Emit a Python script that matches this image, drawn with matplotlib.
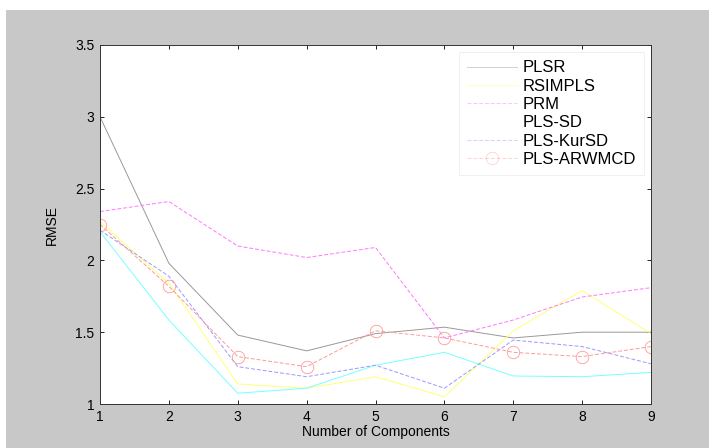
import matplotlib
matplotlib.use("Agg")
import matplotlib.pyplot as plt
from matplotlib.patches import Rectangle

components = [1, 2, 3, 4, 5, 6, 7, 8, 9]

plsr = [3.00, 1.98, 1.48, 1.37, 1.49, 1.535, 1.46, 1.50, 1.50]
rsimpls = [2.27, 1.84, 1.14, 1.11, 1.19, 1.05, 1.51, 1.79, 1.49]
prm = [2.34, 2.41, 2.10, 2.02, 2.09, 1.46, 1.585, 1.745, 1.81]
pls_sd = [2.20, 1.585, 1.075, 1.11, 1.27, 1.36, 1.195, 1.19, 1.22]
pls_kursd = [2.21, 1.89, 1.26, 1.19, 1.27, 1.11, 1.445, 1.40, 1.28]
pls_arwmcd = [2.25, 1.82, 1.33, 1.26, 1.51, 1.46, 1.36, 1.33, 1.40]

y_ticks = [1, 1.5, 2, 2.5, 3, 3.5]
y_tick_labels = ["1", "1.5", "2", "2.5", "3", "3.5"]

plt.rcParams["font.family"] = ["Liberation Sans", "DejaVu Sans"]

fig = plt.figure(figsize=(7.09, 4.48), dpi=100)
fig.patch.set_facecolor("white")
# grey MATLAB-style figure background, leaving a thin white strip at left/top
fig.patches.append(Rectangle((6 / 709, 0), 1, 1 - 10 / 448, transform=fig.transFigure,
                             facecolor="#c8c8c8", edgecolor="none", zorder=-10))

ax = fig.add_axes([100 / 709, 1 - 404 / 448, 551 / 709, 359 / 448])
ax.set_facecolor("white")

lw = 0.7
dash = (0, (4, 2))
ax.plot(components, plsr, color="#999999", lw=lw, label="PLSR")
ax.plot(components, rsimpls, color="#ffff77", lw=lw, label="RSIMPLS")
ax.plot(components, prm, color="#ff77ff", lw=lw, ls=dash, label="PRM")
ax.plot(components, pls_sd, color="#77ffff", lw=lw, label="PLS-SD")
ax.plot(components, pls_kursd, color="#9999ff", lw=lw, ls=dash, label="PLS-KurSD")
ax.plot(components, pls_arwmcd, color="#ff9999", lw=lw, ls=dash, marker="o",
        markersize=9, markerfacecolor="none", markeredgewidth=0.6, label="PLS-ARWMCD")

ax.set_xlim(1, 9)
ax.set_ylim(1, 3.5)
ax.set_xticks(components)
ax.set_yticks(y_ticks)
ax.set_yticklabels(y_tick_labels)
ax.tick_params(direction="in", length=3, width=0.6, labelsize=10,
               top=True, right=True, pad=4)
for spine in ax.spines.values():
    spine.set_linewidth(0.7)
    spine.set_color("#333333")

ax.set_xlabel("Number of Components", fontsize=10, labelpad=1)
ax.set_ylabel("RMSE", fontsize=10, labelpad=12)

leg = ax.legend(loc="upper right", bbox_to_anchor=(0.987, 0.9805), borderaxespad=0,
                fontsize=12, handlelength=3.0, handletextpad=0.3, labelspacing=0.2,
                borderpad=0.5, fancybox=False, framealpha=1)
leg.get_frame().set_edgecolor("#eeeeee")
leg.get_frame().set_linewidth(0.6)
for handle in leg.legend_handles:
    handle.set_alpha(0.45)
leg.legend_handles[3].set_alpha(0.05)

fig.savefig("out.png", dpi=100)
